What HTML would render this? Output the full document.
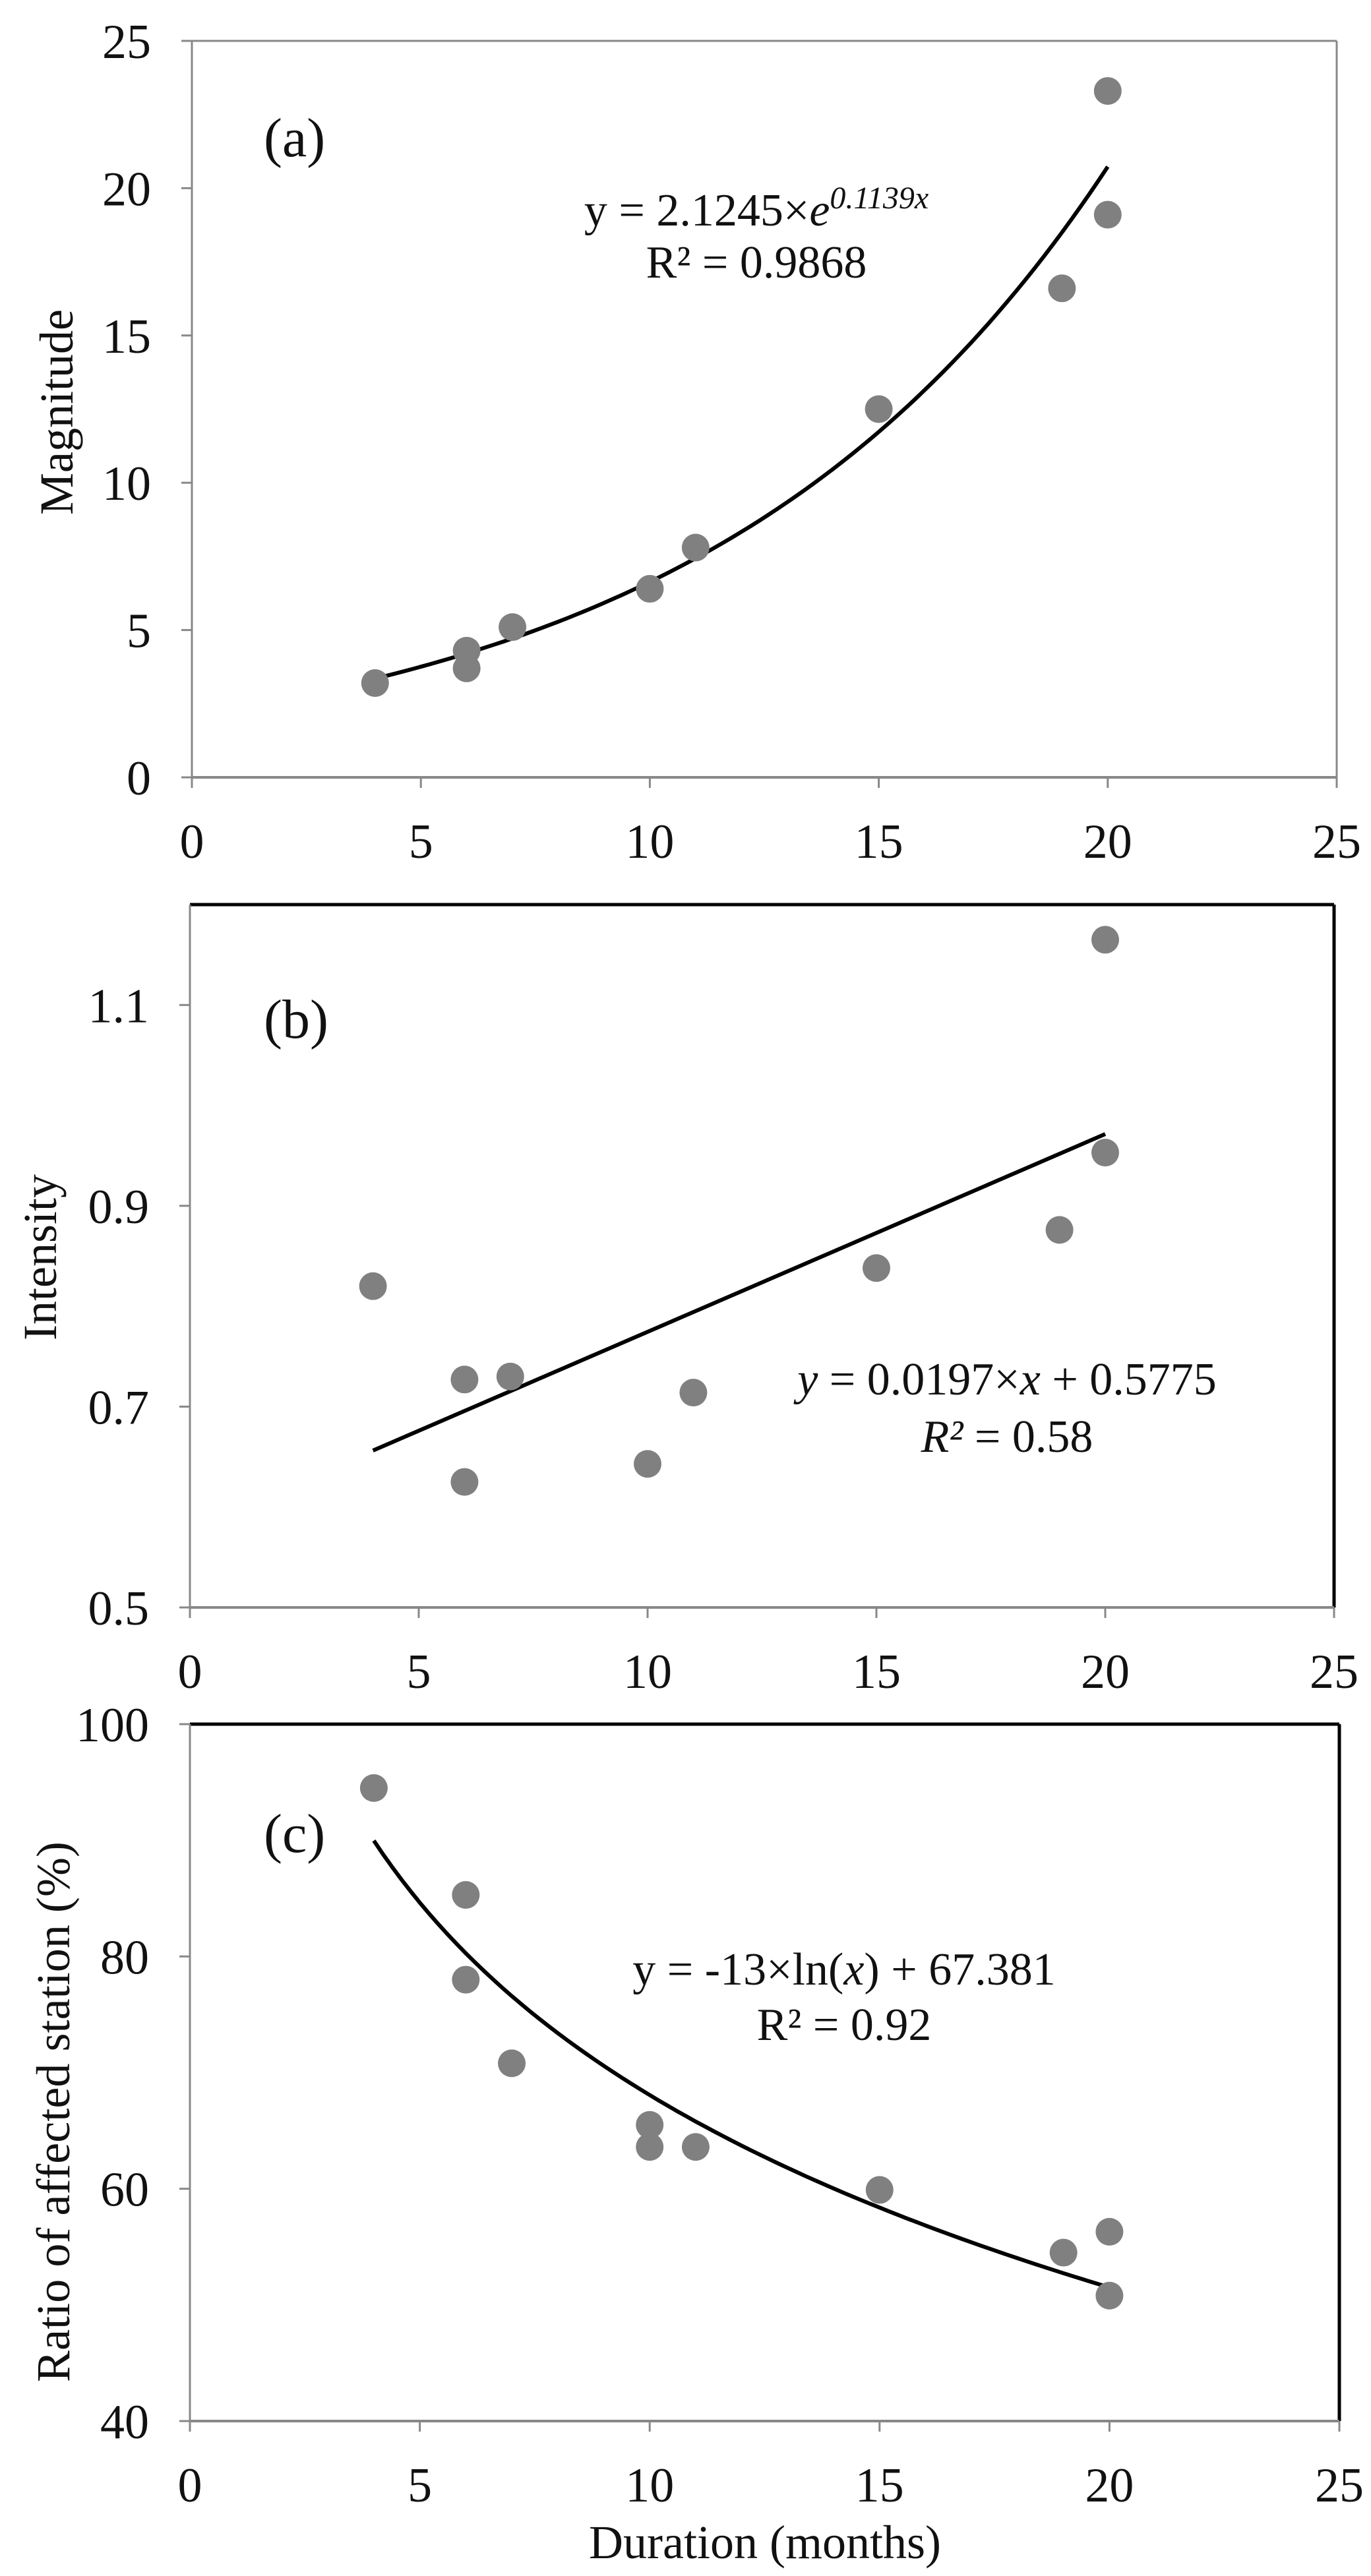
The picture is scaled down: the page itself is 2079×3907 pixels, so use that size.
<!DOCTYPE html>
<html><head><meta charset="utf-8"><style>
html,body{margin:0;padding:0;background:#fff}
svg{display:block}
text{font-family:"Liberation Serif",serif;fill:#111}
</style></head><body>
<svg id="c" width="2079" height="3907" viewBox="0 0 2079 3907" xmlns="http://www.w3.org/2000/svg"></svg>
<script>
const xTicks=[0,5,10,15,20,25];
const aX=[4,6,6,7,10,11,15,19,20,20];
const aY=[3.2,4.3,3.7,5.1,6.4,7.8,12.5,16.6,23.3,19.1];
const aTicks=[0,5,10,15,20,25];
const bX=[4,6,6,7,10,11,15,19,20,20];
const bY=[0.82,0.727,0.625,0.73,0.643,0.714,0.838,0.876,1.165,0.953];
const bTicks=[0.5,0.7,0.9,1.1];
const cX=[4,6,6,7,10,10,11,15,19,20,20];
const cY=[94.5,85.3,78,70.8,65.5,63.6,63.6,59.9,54.5,56.3,50.8];
const cTicks=[40,60,80,100];
const NS="http://www.w3.org/2000/svg";
const svg=document.getElementById('c');
function mk(tag,attrs,parent,txt){const e=document.createElementNS(NS,tag);for(const k in attrs)e.setAttribute(k,attrs[k]);if(txt!==undefined)e.textContent=txt;(parent||svg).appendChild(e);return e;}
function panel(o){
  const g=mk('g',{});
  
  
  const sx=v=>o.x0+(v-0)/(25-0)*(o.x1-o.x0);
  const sy=v=>o.yb+(v-o.ymin)/(o.ymax-o.ymin)*(o.yt-o.yb);
  const bc=o.dark?'#000':'#888', bw=o.dark?5:3;
  const top=mk('line',{x1:o.x0,y1:o.yt,x2:o.x1,y2:o.yt,stroke:bc,'stroke-width':bw},g);
  
  
  const rt=mk('line',{x1:o.x1,y1:o.yt,x2:o.x1,y2:o.yb,stroke:bc,'stroke-width':bw},g);
  
  
  const ya=mk('line',{x1:o.x0,y1:o.yt,x2:o.x0,y2:o.yb,stroke:'#888','stroke-width':3},g);
  
  
  const xa=mk('line',{x1:o.x0,y1:o.yb,x2:o.x1,y2:o.yb,stroke:'#888','stroke-width':4},g);
  
  
  xTicks.forEach(t=>{
    const tk=mk('line',{x1:sx(t),y1:o.yb,x2:sx(t),y2:o.yb+16,stroke:'#888','stroke-width':3},g);
    
    
    const tl=mk('text',{x:sx(t),y:o.yb+122,'text-anchor':'middle','font-size':74},g,String(t));
    
    
  });
  o.yTicks.forEach(t=>{
    const tk=mk('line',{x1:o.x0-16,y1:sy(t),x2:o.x0,y2:sy(t),stroke:'#888','stroke-width':3},g);
    
    
    const tl=mk('text',{x:o.x0-62,y:sy(t)+26,'text-anchor':'end','font-size':74},g,String(t));
    
    
  });
  let d='';
  for(let i=0;i<=80;i++){const x=4+16*i/80;d+=(i?'L':'M')+sx(x).toFixed(1)+','+sy(o.f(x)).toFixed(1);}
  const tr=mk('path',{d:d,fill:'none',stroke:'#000','stroke-width':6},g);
  
  
  o.xs.forEach((x,i)=>{
    const c=mk('circle',{cx:sx(x),cy:sy(o.ys[i]),r:21,fill:'#808080'},g);
    
    
  });
  const lb=mk('text',{x:400,y:o.labY,'font-size':84},g,o.lab);
  
  
  const yl=mk('text',{x:0,y:0,'text-anchor':'middle','font-size':72,transform:`translate(${o.ylx},${o.yly}) rotate(-90)`},g,o.ylab);
  if(o.ylen)yl.setAttribute('textLength',o.ylen);
  
  
  return g;
}
panel({name:'panel-a',x0:291,x1:2027,yt:62,yb:1179,ymin:0,ymax:25,yTicks:aTicks,xs:aX,ys:aY,f:x=>2.1245*Math.exp(0.1139*x),dark:false,lab:'(a)',labY:237,ylab:'Magnitude',ylx:110,yly:625});
panel({name:'panel-b',x0:288,x1:2023,yt:1372,yb:2438,ymin:0.5,ymax:1.2,yTicks:bTicks,xs:bX,ys:bY,f:x=>0.0197*x+0.5775,dark:true,lab:'(b)',labY:1574,ylab:'Intensity',ylx:85,yly:1907});
panel({name:'panel-c',x0:288,x1:2031,yt:2615,yb:3672,ymin:40,ymax:100,yTicks:cTicks,xs:cX,ys:cY,f:x=>-23.9*Math.log(x)+123.1,dark:true,lab:'(c)',labY:2809,ylab:'Ratio of affected station (%)',ylx:105,yly:3203,ylen:820});
</script>
<svg style="position:absolute;left:0;top:0" width="2079" height="3907">
<text x="1147" y="342" text-anchor="middle" font-size="70">y = 2.1245×<tspan font-style="italic">e</tspan><tspan font-style="italic" font-size="48" dy="-26">0.1139x</tspan></text>
<text x="1147" y="421" text-anchor="middle" font-size="70">R² = 0.9868</text>
<text x="1527" y="2115" text-anchor="middle" font-size="70"><tspan font-style="italic">y</tspan> = 0.0197×<tspan font-style="italic">x</tspan>  + 0.5775</text>
<text x="1527" y="2202" text-anchor="middle" font-size="70"><tspan font-style="italic">R²</tspan> = 0.58</text>
<text x="1280" y="3010" text-anchor="middle" font-size="70">y = -13×ln(<tspan font-style="italic">x</tspan>) + 67.381</text>
<text x="1280" y="3094" text-anchor="middle" font-size="70">R² = 0.92</text>
<text x="1160" y="3880" text-anchor="middle" font-size="72">Duration  (months)</text>
</svg>
</body></html>
